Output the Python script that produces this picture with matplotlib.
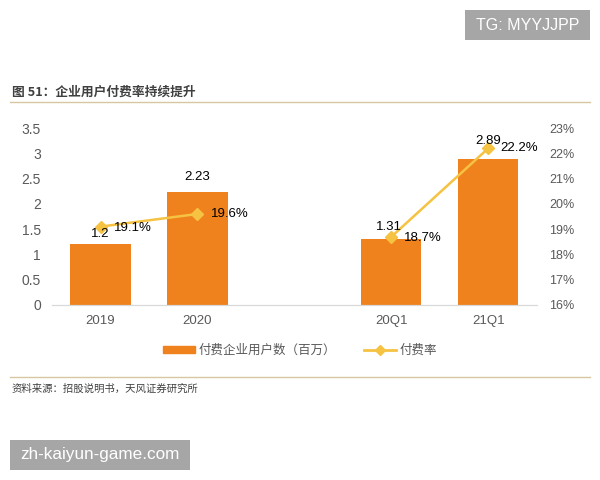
import numpy as np
import matplotlib.pyplot as plt
from matplotlib.patches import Rectangle

plt.rcParams['font.family'] = ['Liberation Sans', 'Noto Sans CJK SC']

# data ('' is the empty gap slot between yearly and quarterly data)
categories = ['2019', '2020', '', '20Q1', '21Q1']
users = [1.2, 2.23, np.nan, 1.31, 2.89]          # 付费企业用户数（百万）
rate = [19.1, 19.6, np.nan, 18.7, 22.2]          # 付费率 %
user_labels = ['1.2', '2.23', '', '1.31', '2.89']
rate_labels = ['19.1%', '19.6%', '', '18.7%', '22.2%']

bar_color = '#F0821E'
line_color = '#F5C242'
tick_color = '#595959'

fig = plt.figure(figsize=(6, 4.8), dpi=100)
ax = fig.add_axes([0.0867, 0.3646, 0.808, 0.3687])
ax2 = ax.twinx()

x = np.arange(len(categories))
ax.bar(x, users, width=0.62, color=bar_color, zorder=2)
ax2.plot(x, rate, color=line_color, lw=1.8, marker='D', ms=6, zorder=3)

ax.set_xlim(-0.5, 4.5)
ax.set_ylim(0, 3.5)
ax.set_yticks(np.arange(0, 3.51, 0.5))
ax.set_yticklabels(['0', '0.5', '1', '1.5', '2', '2.5', '3', '3.5'])
ax2.set_ylim(16, 23)
ax2.set_yticks(range(16, 24))
ax2.set_yticklabels([f'{v}%' for v in range(16, 24)])
ax.set_xticks(x)
ax.set_xticklabels(categories)

for a in (ax, ax2):
    for s in ('top', 'left', 'right'):
        a.spines[s].set_visible(False)
    a.spines['bottom'].set_color('#D9D9D9')
    a.tick_params(length=0, labelsize=10, colors=tick_color, pad=8)
ax2.tick_params(labelsize=9, pad=9)
ax.tick_params(axis='x', labelsize=9.5, pad=7)

# value labels
lbl = dict(fontsize=9.5, color='black')
ax2.text(x[0], rate[0] - 0.05, user_labels[0], ha='center', va='top', **lbl)
ax.text(x[1], users[1] + 0.18, user_labels[1], ha='center', va='bottom', **lbl)
ax2.text(x[3] - 0.02, rate[3] + 0.15, user_labels[3], ha='center',
         va='bottom', **lbl)
ax2.text(x[4], rate[4] + 0.05, user_labels[4], ha='center', va='bottom', **lbl)
offsets = {0: (0.14, -0.05), 1: (0.14, 0.0), 3: (0.13, -0.05), 4: (0.12, 0.0)}
for i, (dx, dy) in offsets.items():
    ax2.text(x[i] + dx, rate[i] + dy, rate_labels[i], ha='left', va='center',
             **lbl)

# legend
leg = fig.legend(handles=[Rectangle((0, 0), 1, 1, color=bar_color),
                          plt.Line2D([], [], color=line_color, lw=2,
                                     marker='D', ms=5)],
                 labels=['付费企业用户数（百万）', '付费率'],
                 loc='center', bbox_to_anchor=(0.5, 0.27), ncol=2,
                 frameon=False, fontsize=9, handlelength=2.6,
                 handleheight=0.5, columnspacing=2.2, handletextpad=0.3)
for t in leg.get_texts():
    t.set_color(tick_color)

# title, rules and source
fig.text(0.02, 0.808, '图 51：企业用户付费率持续提升', fontsize=9.2,
         fontweight='bold', color='#404040', va='center',
         family=['Noto Sans CJK SC'])
fig.add_artist(plt.Line2D([0.017, 0.983], [0.787, 0.787], color='#D6C7A1', lw=1))
fig.add_artist(plt.Line2D([0.017, 0.983], [0.215, 0.215], color='#D6C7A1', lw=1))
fig.text(0.02, 0.19, '资料来源：招股说明书，天风证券研究所', fontsize=7.5,
         color='#404040', va='center', family=['Noto Sans CJK SC'])

# watermarks
fig.add_artist(Rectangle((465 / 600, 1 - 40 / 480), 125 / 600, 30 / 480,
                         transform=fig.transFigure, fc='#A6A6A6', ec='none'))
fig.text(527.5 / 600, 1 - 25 / 480, 'TG: MYYJJPP', fontsize=11.5,
         color='white', ha='center', va='center')
fig.add_artist(Rectangle((10 / 600, 1 - 470 / 480), 180 / 600, 30 / 480,
                         transform=fig.transFigure, fc='#A6A6A6', ec='none'))
fig.text(100 / 600, 1 - 455 / 480, 'zh-kaiyun-game.com', fontsize=12.3,
         color='white', ha='center', va='center')

fig.savefig('out.png', dpi=100)
